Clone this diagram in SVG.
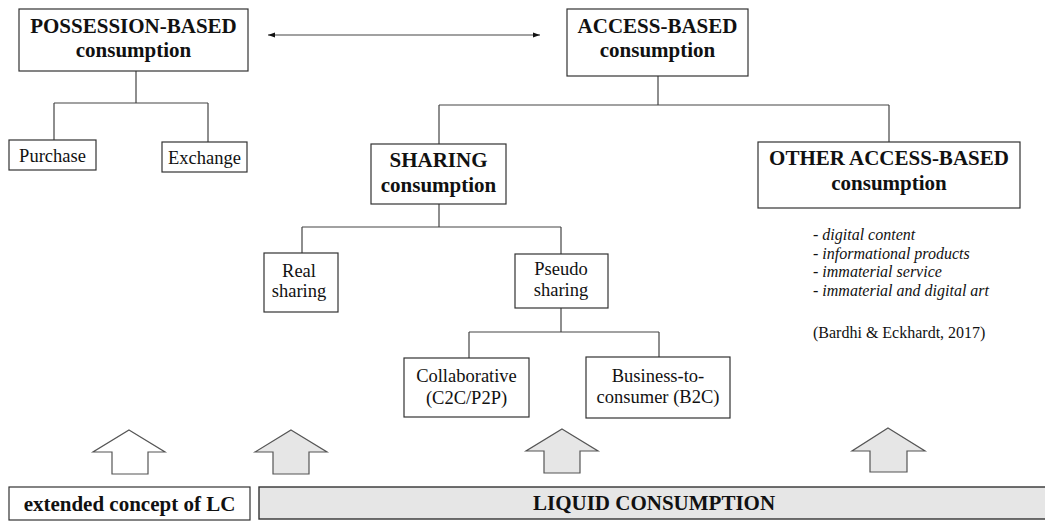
<svg xmlns="http://www.w3.org/2000/svg" width="1045" height="521" viewBox="0 0 1045 521">
<style>
text{font-family:'Liberation Serif','Times New Roman',serif;fill:#111}
.b{font-weight:bold;font-size:21px}
.r{font-size:18.5px}
.i{font-size:16px;font-style:italic}
.s{font-size:16px}
.box{fill:#fff;stroke:#333;stroke-width:1.2}
.ln{fill:none;stroke:#444;stroke-width:1.2}
.ua{fill:#e6e6e6;stroke:#555;stroke-width:1.2}
</style>
<defs>
<marker id="ah" viewBox="0 0 10 10" refX="10" refY="5" markerWidth="7" markerHeight="7" orient="auto-start-reverse" markerUnits="userSpaceOnUse">
<path d="M0,1.5 L10,5 L0,8.5 z" fill="#111"/>
</marker>
</defs>
<g id="connectors">
<line class="ln" x1="268" y1="35" x2="540" y2="35" stroke="#111" marker-start="url(#ah)" marker-end="url(#ah)"/>
<path class="ln" d="M136,71 V103 M54,103 H208 M54,103 V140 M208,103 V142"/>
<path class="ln" d="M658,76 V105 M439,105 H889 M439,105 V144 M889,105 V142"/>
<path class="ln" d="M439,204 V227 M302,227 H561 M302,227 V253 M561,227 V254"/>
<path class="ln" d="M561,308 V332 M469,332 H659 M469,332 V358 M659,332 V357"/>
</g>
<g id="possession">
<rect class="box" x="19" y="9" width="229" height="62"/>
<text class="b" x="133.5" y="33" text-anchor="middle">POSSESSION-BASED</text>
<text class="b" x="133.5" y="57" text-anchor="middle">consumption</text>
</g>
<g id="purchase">
<rect class="box" x="9" y="140" width="87" height="30"/>
<text class="r" x="52.5" y="162" text-anchor="middle">Purchase</text>
</g>
<g id="exchange">
<rect class="box" x="162" y="142" width="85" height="30"/>
<text class="r" x="204.5" y="164" text-anchor="middle">Exchange</text>
</g>
<g id="access">
<rect class="box" x="567" y="9" width="181" height="67"/>
<text class="b" x="657.5" y="33" text-anchor="middle">ACCESS-BASED</text>
<text class="b" x="657.5" y="57" text-anchor="middle">consumption</text>
</g>
<g id="sharing">
<rect class="box" x="371" y="144" width="135" height="60"/>
<text class="b" x="438.5" y="167" text-anchor="middle">SHARING</text>
<text class="b" x="438.5" y="192" text-anchor="middle">consumption</text>
</g>
<g id="other">
<rect class="box" x="758" y="142" width="262" height="66"/>
<text class="b" x="889" y="165" text-anchor="middle">OTHER ACCESS-BASED</text>
<text class="b" x="889" y="190" text-anchor="middle">consumption</text>
</g>
<g id="other-list">
<text class="i" x="813" y="240">- digital content</text>
<text class="i" x="813" y="258.5">- informational products</text>
<text class="i" x="813" y="277">- immaterial service</text>
<text class="i" x="813" y="296">- immaterial and digital art</text>
<text class="s" x="813" y="338">(Bardhi &amp; Eckhardt, 2017)</text>
</g>
<g id="real">
<rect class="box" x="264" y="253" width="74" height="59"/>
<text class="r" x="299" y="277" text-anchor="middle">Real</text>
<text class="r" x="299" y="297" text-anchor="middle">sharing</text>
</g>
<g id="pseudo">
<rect class="box" x="515" y="254" width="93" height="54"/>
<text class="r" x="561" y="275" text-anchor="middle">Pseudo</text>
<text class="r" x="561" y="296" text-anchor="middle">sharing</text>
</g>
<g id="collaborative">
<rect class="box" x="404" y="358" width="125" height="59"/>
<text class="r" x="466.5" y="382" text-anchor="middle">Collaborative</text>
<text class="r" x="466.5" y="404" text-anchor="middle">(C2C/P2P)</text>
</g>
<g id="b2c">
<rect class="box" x="586" y="357" width="144" height="61"/>
<text class="r" x="658" y="382" text-anchor="middle">Business-to-</text>
<text class="r" x="658" y="403" text-anchor="middle">consumer (B2C)</text>
</g>
<g id="up-arrows">
<path class="ua" style="fill:#fff" d="M129,430 L165,452 H148 V474 H112 V452 H93 Z"/>
<path class="ua" d="M291,430 L327,452 H309 V474 H273 V452 H255 Z"/>
<path class="ua" d="M562,429 L598,451 H580 V473 H544 V451 H526 Z"/>
<path class="ua" d="M888,428 L925,451 H907 V472 H870 V451 H852 Z"/>
</g>
<g id="extended">
<rect class="box" x="9" y="487" width="241" height="33"/>
<text class="b" x="129.5" y="511" text-anchor="middle">extended concept of LC</text>
</g>
<g id="liquid">
<rect x="259" y="487" width="800" height="32" fill="#e6e6e6" stroke="#333" stroke-width="1.4"/>
<text class="b" x="533" y="510">LIQUID CONSUMPTION</text>
</g>
</svg>
